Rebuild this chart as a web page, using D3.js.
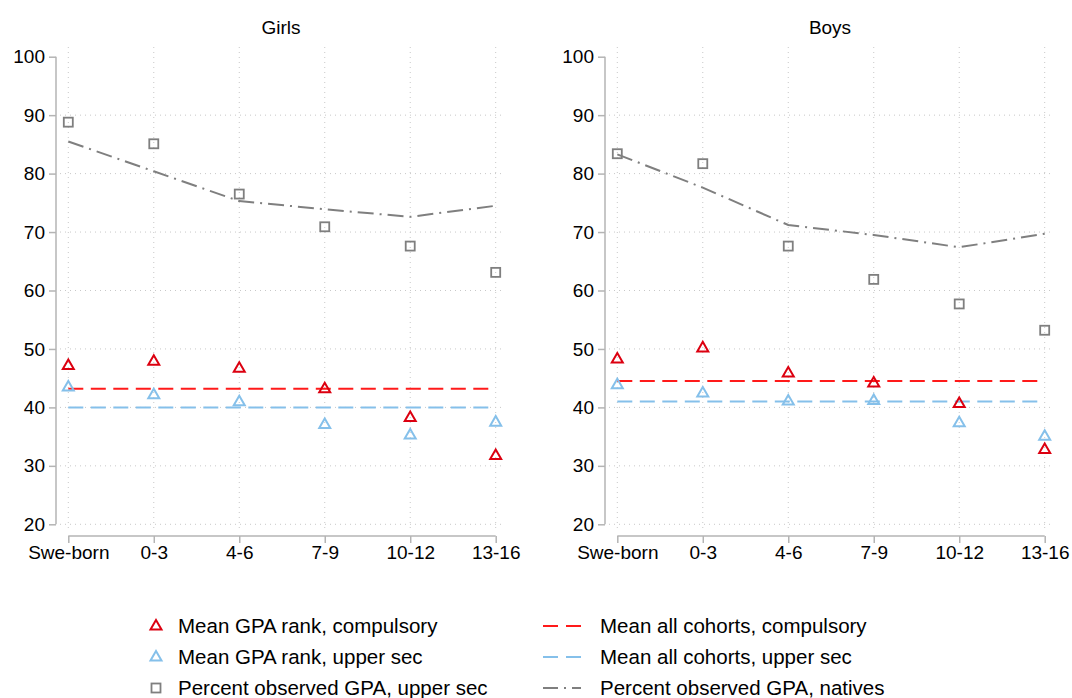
<!DOCTYPE html>
<html>
<head>
<meta charset="utf-8">
<script src="https://cdn.jsdelivr.net/npm/d3@7"></script>
<style>
  body { margin: 0; background: #fff; }
  text { font-family: "Liberation Sans", Arial, sans-serif; fill: #000; }
</style>
</head>
<body>
<div id="chart"></div>
<script>
// Data
var cohorts = ["Swe-born", "0-3", "4-6", "7-9", "10-12", "13-16"];
var yTicks = [20, 30, 40, 50, 60, 70, 80, 90, 100];
var panels = ["Girls", "Boys"];

var girlsCompulsory = [47.2, 47.9, 46.7, 43.2, 38.3, 31.8];
var girlsUpperSec = [43.5, 42.2, 41.0, 37.1, 35.3, 37.5];
var girlsObserved = [88.8, 85.1, 76.5, 70.9, 67.6, 63.1];
var girlsNatives = [85.5, 80.4, 75.3, 73.9, 72.6, 74.5];
var girlsMeanCompulsory = 43.2;
var girlsMeanUpperSec = 40.0;

var boysCompulsory = [48.3, 50.2, 45.9, 44.2, 40.7, 32.8];
var boysUpperSec = [43.9, 42.5, 41.1, 41.2, 37.4, 35.1];
var boysObserved = [83.4, 81.7, 67.6, 61.9, 57.7, 53.2];
var boysNatives = [83.3, 77.6, 71.2, 69.5, 67.4, 69.7];
var boysMeanCompulsory = 44.5;
var boysMeanUpperSec = 41.0;

var legendLabels = [
  "Mean GPA rank, compulsory",
  "Mean GPA rank, upper sec",
  "Percent observed GPA, upper sec",
  "Mean all cohorts, compulsory",
  "Mean all cohorts, upper sec",
  "Percent observed GPA, natives"
];

var panelData = [
  {comp: girlsCompulsory, upper: girlsUpperSec, obs: girlsObserved, nat: girlsNatives,
   meanComp: girlsMeanCompulsory, meanUpper: girlsMeanUpperSec},
  {comp: boysCompulsory, upper: boysUpperSec, obs: boysObserved, nat: boysNatives,
   meanComp: boysMeanCompulsory, meanUpper: boysMeanUpperSec}
];

var colRedMarker = "#dc0010";
var colRedLine = "#ff1a1a";
var colBlue = "#85c0ea";
var colGray = "#7f7f7f";
var colAxis = "#b4b4b4";
var colGrid = "#c8c8c8";
var fontSize = "19px";
var legendFontSize = "20.5px";

var width = 1072, height = 698;
var svg = d3.select("#chart").append("svg")
    .attr("width", width)
    .attr("height", height);

// Panel geometry (left edge of y axis)
var panelLeft = [56, 605];
var plotW = 448;

var yScale = d3.scaleLinear()
    .domain([20, 100])
    .range([524.3, 56.7]);

function triPath(size) {
  var h = size * 0.866;
  return "M0," + (-h * 0.62) + "L" + (size / 2) + "," + (h * 0.38) + "L" + (-size / 2) + "," + (h * 0.38) + "Z";
}

panels.forEach(function(title, p) {
  var d = panelData[p];
  var left = panelLeft[p];
  var g = svg.append("g").attr("transform", "translate(" + left + ",0)");

  var xScale = d3.scalePoint()
      .domain(cohorts)
      .range([12.3, 439.7]);

  // Grid lines
  g.append("g").selectAll("line.hgrid")
    .data(yTicks.slice(0, -1))
    .enter().append("line")
      .attr("x1", 4).attr("x2", plotW)
      .attr("y1", function(v) { return yScale(v); })
      .attr("y2", function(v) { return yScale(v); })
      .attr("stroke", colGrid).attr("stroke-width", 1)
      .attr("stroke-dasharray", "1,4");
  g.append("g").selectAll("line.vgrid")
    .data(cohorts)
    .enter().append("line")
      .attr("x1", function(c) { return xScale(c); })
      .attr("x2", function(c) { return xScale(c); })
      .attr("y1", 47).attr("y2", 531)
      .attr("stroke", colGrid).attr("stroke-width", 1)
      .attr("stroke-dasharray", "1,4");

  // Y axis
  var yAxis = d3.axisLeft(yScale).tickValues(yTicks).tickSize(7).tickPadding(4);
  var gy = g.append("g").call(yAxis);
  gy.select(".domain").attr("d", "M0," + yScale(100) + "V" + yScale(20)).attr("stroke", colAxis).attr("stroke-width", 1.5);
  gy.selectAll(".tick line").attr("stroke", colAxis).attr("stroke-width", 1.5);
  gy.selectAll(".tick text").style("font-size", fontSize).style("font-family", "Liberation Sans, Arial, sans-serif").attr("fill", "#000");

  // X axis
  var xAxis = d3.axisBottom(xScale).tickSize(7).tickPadding(3);
  var gx = g.append("g").attr("transform", "translate(0,536)").call(xAxis);
  gx.select(".domain").attr("d", "M" + xScale(cohorts[0]) + ",0H" + xScale(cohorts[cohorts.length - 1])).attr("stroke", colAxis).attr("stroke-width", 1.5);
  gx.selectAll(".tick line").attr("stroke", colAxis).attr("stroke-width", 1.5);
  gx.selectAll(".tick text").style("font-size", fontSize).style("font-family", "Liberation Sans, Arial, sans-serif").attr("fill", "#000");

  // Title
  g.append("text")
    .attr("x", 225).attr("y", 34)
    .attr("text-anchor", "middle")
    .style("font-size", fontSize)
    .text(title);

  var x0 = xScale(cohorts[0]), x1 = xScale(cohorts[cohorts.length - 1]);

  // Mean lines
  g.append("line")
    .attr("x1", x0).attr("x2", x1)
    .attr("y1", yScale(d.meanUpper)).attr("y2", yScale(d.meanUpper))
    .attr("stroke", colBlue).attr("stroke-width", 2)
    .attr("stroke-dasharray", "15,7.5");
  g.append("line")
    .attr("x1", x0).attr("x2", x1)
    .attr("y1", yScale(d.meanComp)).attr("y2", yScale(d.meanComp))
    .attr("stroke", colRedLine).attr("stroke-width", 2)
    .attr("stroke-dasharray", "15,7.5");

  // Natives line
  var line = d3.line()
      .x(function(v, i) { return xScale(cohorts[i]); })
      .y(function(v) { return yScale(v); });
  g.append("path")
    .datum(d.nat)
    .attr("d", line)
    .attr("fill", "none")
    .attr("stroke", colGray).attr("stroke-width", 2)
    .attr("stroke-dasharray", "16,6,2,6");

  // Squares
  g.selectAll("rect.obs")
    .data(d.obs)
    .enter().append("rect")
      .attr("x", function(v, i) { return xScale(cohorts[i]) - 4.5; })
      .attr("y", function(v) { return yScale(v) - 4.5; })
      .attr("width", 9).attr("height", 9)
      .attr("fill", "none")
      .attr("stroke", colGray).attr("stroke-width", 1.8);

  // Triangles
  g.selectAll("path.upper")
    .data(d.upper)
    .enter().append("path")
      .attr("transform", function(v, i) { return "translate(" + xScale(cohorts[i]) + "," + yScale(v) + ")"; })
      .attr("d", triPath(11))
      .attr("fill", "none")
      .attr("stroke", colBlue).attr("stroke-width", 2);
  g.selectAll("path.comp")
    .data(d.comp)
    .enter().append("path")
      .attr("transform", function(v, i) { return "translate(" + xScale(cohorts[i]) + "," + yScale(v) + ")"; })
      .attr("d", triPath(11))
      .attr("fill", "none")
      .attr("stroke", colRedMarker).attr("stroke-width", 2);
});

// Legend
var legend = svg.append("g");
var rowY = [626, 657, 688];

legend.append("path")
  .attr("transform", "translate(156," + rowY[0] + ")")
  .attr("d", triPath(11)).attr("fill", "none")
  .attr("stroke", colRedMarker).attr("stroke-width", 2);
legend.append("path")
  .attr("transform", "translate(156," + rowY[1] + ")")
  .attr("d", triPath(11)).attr("fill", "none")
  .attr("stroke", colBlue).attr("stroke-width", 2);
legend.append("rect")
  .attr("x", 151.5).attr("y", rowY[2] - 4.5)
  .attr("width", 9).attr("height", 9)
  .attr("fill", "none")
  .attr("stroke", colGray).attr("stroke-width", 1.8);

legend.append("line")
  .attr("x1", 543).attr("x2", 581).attr("y1", rowY[0]).attr("y2", rowY[0])
  .attr("stroke", colRedLine).attr("stroke-width", 2).attr("stroke-dasharray", "15,8");
legend.append("line")
  .attr("x1", 543).attr("x2", 581).attr("y1", rowY[1]).attr("y2", rowY[1])
  .attr("stroke", colBlue).attr("stroke-width", 2).attr("stroke-dasharray", "15,8");
legend.append("line")
  .attr("x1", 543).attr("x2", 581).attr("y1", rowY[2]).attr("y2", rowY[2])
  .attr("stroke", colGray).attr("stroke-width", 2).attr("stroke-dasharray", "15,6,2,6");

legendLabels.forEach(function(label, i) {
  legend.append("text")
    .attr("x", i < 3 ? 178 : 600)
    .attr("y", rowY[i % 3])
    .attr("dy", "0.35em")
    .style("font-size", legendFontSize)
    .text(label);
});
</script>
</body>
</html>
